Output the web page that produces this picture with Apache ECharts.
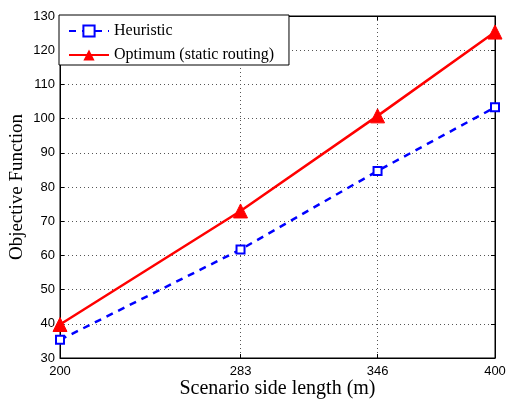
<!DOCTYPE html>
<html><head><meta charset="utf-8">
<script src="https://cdn.jsdelivr.net/npm/echarts@6/dist/echarts.min.js"></script>
<style>html,body{margin:0;padding:0;background:#fff}#c{width:507px;height:403px}</style>
</head><body><div id="c"></div>
<script>
var xValues = [200, 283, 346, 400];
var heuristic = [35.3, 61.7, 84.7, 103.3];
var optimum = [39.8, 73.0, 100.8, 125.3];
var yTicks = [30, 40, 50, 60, 70, 80, 90, 100, 110, 120, 130];

function pairs(ys){ return xValues.map(function(x,i){ return [x, ys[i]]; }); }

var chart = echarts.init(document.getElementById('c'));
var gridLine = {show:true, lineStyle:{color:'#555', type:[1,3], width:1}};
chart.setOption({
  animation:false,
  grid:{left:60, right:12, top:16, bottom:45, show:true, borderColor:'#000', borderWidth:1,
        containLabel:false, outerBoundsMode:'none'},
  legend:{
    left:59, top:15, orient:'vertical', itemGap:8, itemWidth:40, itemHeight:14,
    padding:[8,15,2,9],
    borderColor:'#000', borderWidth:1, backgroundColor:'#fff', borderRadius:0,
    textStyle:{fontFamily:'Liberation Serif', fontSize:16, color:'#000', lineHeight:14},
    data:['Heuristic','Optimum (static routing)']
  },
  xAxis:[{
    type:'value', min:200, max:400, position:'bottom',
    name:'Scenario side length (m)', nameLocation:'middle', nameGap:21, nameMoveOverlap:false,
    nameTextStyle:{fontFamily:'Liberation Serif', fontSize:20, color:'#000'},
    axisLine:{lineStyle:{color:'#000'}},
    axisTick:{inside:true, length:4, customValues:xValues, lineStyle:{color:'#000'}},
    axisLabel:{customValues:xValues, fontFamily:'Liberation Sans', fontSize:13, color:'#000', margin:7},
    splitLine:gridLine
  },{
    type:'value', min:200, max:400, position:'top',
    axisLine:{lineStyle:{color:'#000'}},
    axisTick:{inside:true, length:4, customValues:xValues, lineStyle:{color:'#000'}},
    axisLabel:{show:false, customValues:xValues}, splitLine:{show:false}
  }],
  yAxis:[{
    type:'value', min:30, max:130, interval:10, position:'left',
    name:'Objective Function', nameLocation:'middle', nameGap:33, nameMoveOverlap:false,
    nameTextStyle:{fontFamily:'Liberation Serif', fontSize:19, color:'#000'},
    axisLine:{show:true, lineStyle:{color:'#000'}},
    axisTick:{show:true, inside:true, length:4, lineStyle:{color:'#000'}},
    axisLabel:{fontFamily:'Liberation Sans', fontSize:13, color:'#000', margin:5},
    splitLine:gridLine
  },{
    type:'value', min:30, max:130, interval:10, position:'right',
    axisLine:{show:true, lineStyle:{color:'#000'}},
    axisTick:{show:true, inside:true, length:4, lineStyle:{color:'#000'}},
    axisLabel:{show:false}, splitLine:{show:false}
  }],
  series:[{
    name:'Heuristic', type:'line', data:pairs(heuristic),
    symbol:'rect', symbolSize:8,
    lineStyle:{color:'#0000ff', width:2.5, type:[7,6]},
    itemStyle:{color:'#fff', borderColor:'#0000ff', borderWidth:2},
    z:3
  },{
    name:'Optimum (static routing)', type:'line', data:pairs(optimum),
    symbol:'triangle', symbolSize:14,
    lineStyle:{color:'#ff0000', width:2.5},
    itemStyle:{color:'#ff0000', borderColor:'#ff0000'},
    z:4
  }]
});
</script></body></html>
